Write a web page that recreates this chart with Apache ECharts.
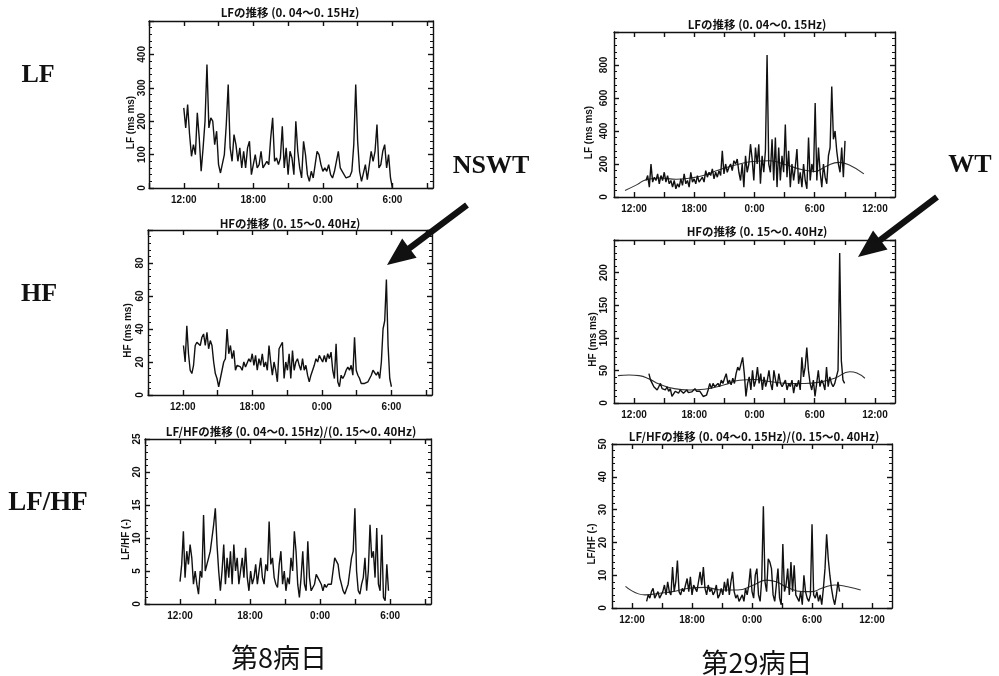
<!DOCTYPE html>
<html><head><meta charset="utf-8">
<script src="https://cdn.jsdelivr.net/npm/echarts@6/dist/echarts.min.js"></script>
<style>html,body{margin:0;padding:0;background:#fff}#c{width:999px;height:676px}</style>
</head><body><div id="c"></div>
<script>
// ---------- data (time in hours; 24 = 0:00 next day) ----------
const day8LF_start = 12.0, day8LF_end = 30.0;
const day8LF = [240,180,250,160,95,130,100,225,150,50,120,200,370,180,210,200,130,170,70,45,
40,100,190,310,120,80,160,130,80,120,60,110,60,120,140,40,70,100,60,70,
110,60,70,80,70,150,210,80,90,70,90,185,60,120,40,110,90,40,200,110,
60,30,140,100,40,20,50,30,70,110,100,70,50,60,50,70,40,30,50,80,
110,60,50,50,30,25,35,50,130,310,140,50,20,25,70,25,30,110,80,110,
190,60,70,110,130,60,100,30,0];

const day8HF_start = 12.06, day8HF_end = 30.0;
const day8HF = [30,20,42,25,15,13,18,30,32,33,30,35,37,30,38,28,33,30,20,13,
10,5,10,15,20,22,40,25,30,22,27,15,18,18,17,15,20,17,18,22,
20,25,18,24,15,22,18,25,17,20,15,30,20,12,20,15,8,28,30,32,
10,20,15,25,10,27,15,20,22,18,15,22,15,18,12,8,12,15,18,22,
20,24,22,20,24,20,25,22,26,15,10,31,8,5,12,10,12,15,17,15,
18,12,35,15,12,10,7,8,7,7,8,10,12,15,16,12,14,10,20,40,
45,70,30,10,5];

const day8Ratio_start = 12.0, day8Ratio_end = 29.86;
const day8Ratio = [3.4,6,11,4,8,6,9,7,3,5,3,1.5,5,4,13.5,5,6,7,8,10,
12,14.5,9,5,2,5,9,3,7,4,8,3,9,5,7,3,5,7,4,8.5,
4,2,5,3,4,6,3,5,7,4,3,6,5,12.5,6,7,4,3,2.5,6,
8,3,5,2,4,3,7,5,11,8,3,1,4,8,3,2,9.5,4,2,2,
3,4.5,4,4,3,2,3,2.5,3,3,3,5,7,6.5,6,4,3,2,1.5,1.5,
3,5,7,8,14.5,5,2,1.5,3,4,7,2,5,12,7,8,4,11.5,3,2,
10.5,1,0.5,6,2];

const day29LF_start = 13.19, day29LF_end = 33.02;
const day29LF = [100,130,60,200,90,120,100,140,80,130,100,150,90,130,80,100,60,100,50,80,
60,110,70,140,80,100,60,150,90,110,80,130,90,100,120,90,160,120,150,130,
170,110,150,120,160,130,280,140,200,150,180,200,160,220,200,230,150,100,200,60,
250,150,200,320,230,100,300,200,320,80,250,150,280,860,200,150,350,100,360,60,
300,100,250,150,440,120,280,60,200,100,180,290,80,150,60,200,100,50,360,100,
200,150,570,100,300,150,60,200,120,80,250,300,670,350,400,280,200,150,300,120,
340];
const day29LF_trendT = [11.1,12.3,13.2,14.6,16.2,17.6,18.9,20.5,22.2,23.8,25.5,27.1,28.8,30.0,31.1,32.4,33.4,34.9];
const day29LF_trendV = [40,75,105,115,108,115,130,165,195,215,220,195,165,155,185,210,195,140];

const day29HF_start = 13.48, day29HF_end = 32.98;
const day29HF = [45,35,30,25,28,20,25,30,22,25,20,25,18,22,10,12,18,20,15,20,
18,15,18,20,16,18,17,20,22,18,15,18,15,10,8,12,20,30,22,30,
25,28,30,25,35,30,38,45,30,35,28,38,30,45,55,50,60,70,45,10,
30,40,20,50,25,35,55,30,45,20,40,25,35,50,30,20,50,35,25,45,
30,25,30,35,20,30,25,35,15,30,25,35,20,70,40,55,85,50,30,20,
35,10,30,50,25,35,30,20,55,25,40,30,25,30,40,50,230,65,35,30];
const day29HF_trendT = [10.4,11.5,12.5,13.5,14.5,16,17.5,19,21,22.5,24,25.5,27.5,29,30.5,32,33.5,34.2,35];
const day29HF_trendV = [42,43,42,37,29,22,20,21,28,35,36,33,30,30,32,38,48,46,38];

const day29Ratio_start = 13.46, day29Ratio_end = 32.76;
const day29Ratio = [2,4,3,5,6,3,4,5,3,4,5,7,4,8,5,4,12.5,5,8,14.5,
5,4,6,5,7,9,5,9.5,4,7,6,5,8,11,7,12.5,6,4,7,5,
6,4,5,7,3,4,6,4,8,5,9,4,8,11,5,3,4,2,3,4,
2,6,4,7,12,5,3,10,12,4,2,9,31,8,5,15,14,12,4,2,
7,12,3,1,19.5,5,7,12,4,14,5,13,4,3,2,5,1,10,5,3,
2,4,25.5,4,3,5,2,4,1,6,12,22.5,15,10,6,3,1,4,8,5];
const day29Ratio_trendT = [11.35,13.3,14.76,16.05,17.68,19.3,20.92,22.54,24.16,25.46,26.43,27.4,29.03,30.0,30.97,32.27,33.57,34.87];
const day29Ratio_trendV = [6.6,4,4.5,5,6,6.3,5.5,5.5,7,8.5,8,6.5,5,5,6,7,6.5,5.5];

const leftTicks = [9,12,15,18,21,24,27,30,33];
const leftLabels = [12,18,24,30];
const rightTicks = [12,15,18,21,24,27,30,33,36];
const rightLabels = [12,18,24,30,36];

// ---------- helpers ----------
function evenSeries(start, end, vals){
  const n = vals.length;
  return vals.map((v,i)=>[start + i*(end-start)/(n-1), v]);
}
function pairs(ts, vs){ return ts.map((t,i)=>[t, vs[i]]); }
function hourLabel(v){ const h = ((Math.round(v) % 24) + 24) % 24; return h + ':00'; }

const INK = '#111';
const panels = [
  {grid:{left:149,top:21,width:284,height:167}, xmin:9, xmax:33.5, ticks:leftTicks, labels:leftLabels,
   ymax:500, yint:100, showMax:false, title:'LFの推移 (0. 04～0. 15Hz)', tx:290, ty:13,
   name:'LF (ms ms)', nameGap:13, lblMargin:2, data:evenSeries(day8LF_start, day8LF_end, day8LF)},
  {grid:{left:148,top:230,width:284,height:165}, xmin:9, xmax:33.5, ticks:leftTicks, labels:leftLabels,
   ymax:100, yint:20, showMax:false, title:'HFの推移 (0. 15～0. 40Hz)', tx:290, ty:224,
   name:'HF (ms ms)', nameGap:15, lblMargin:3, data:evenSeries(day8HF_start, day8HF_end, day8HF)},
  {grid:{left:145,top:439,width:286,height:165}, xmin:9, xmax:33.5, ticks:leftTicks, labels:leftLabels,
   ymax:25, yint:5, showMax:true, title:'LF/HFの推移 (0. 04～0. 15Hz)/(0. 15～0. 40Hz)', tx:291, ty:432,
   name:'LF/HF (-)', nameGap:14, lblMargin:3, data:evenSeries(day8Ratio_start, day8Ratio_end, day8Ratio)},
  {grid:{left:614,top:32,width:281,height:165}, xmin:10, xmax:38, ticks:rightTicks, labels:rightLabels,
   ymax:1000, yint:200, showMax:false, title:'LFの推移 (0. 04～0. 15Hz)', tx:757, ty:25,
   name:'LF (ms ms)', nameGap:20, lblMargin:5, data:evenSeries(day29LF_start, day29LF_end, day29LF),
   trend:pairs(day29LF_trendT, day29LF_trendV)},
  {grid:{left:614,top:240,width:281,height:163}, xmin:10, xmax:38, ticks:rightTicks, labels:rightLabels,
   ymax:250, yint:50, showMax:false, title:'HFの推移 (0. 15～0. 40Hz)', tx:757, ty:232,
   name:'HF (ms ms)', nameGap:15, lblMargin:5, data:evenSeries(day29HF_start, day29HF_end, day29HF),
   trend:pairs(day29HF_trendT, day29HF_trendV)},
  {grid:{left:612,top:444,width:280,height:164}, xmin:10, xmax:38, ticks:rightTicks, labels:rightLabels,
   ymax:50, yint:10, showMax:true, title:'LF/HFの推移 (0. 04～0. 15Hz)/(0. 15～0. 40Hz)', tx:754, ty:437,
   name:'LF/HF (-)', nameGap:14, lblMargin:4, data:evenSeries(day29Ratio_start, day29Ratio_end, day29Ratio),
   trend:pairs(day29Ratio_trendT, day29Ratio_trendV)}
];

const grids=[], xAxes=[], yAxes=[], series=[], graphics=[];
const lineSt = {color:INK, width:1.4};
const tickFont = {fontSize:10, fontWeight:'bold', fontFamily:'Liberation Sans', color:INK};

panels.forEach((p,i)=>{
  grids.push(Object.assign({containLabel:false, show:false}, p.grid));
  xAxes.push({gridIndex:i, type:'value', min:p.xmin, max:p.xmax,
    axisLine:{show:true, onZero:false, lineStyle:lineSt},
    axisTick:{show:true, inside:true, length:5, customValues:p.ticks, lineStyle:lineSt},
    axisLabel:Object.assign({show:true, margin:7, customValues:p.labels, formatter:hourLabel}, tickFont),
    splitLine:{show:false}});
  xAxes.push({gridIndex:i, type:'value', position:'top', min:p.xmin, max:p.xmax,
    axisLine:{show:true, onZero:false, lineStyle:lineSt},
    axisTick:{show:true, inside:true, length:5, customValues:p.ticks, lineStyle:lineSt},
    axisLabel:{show:false}, splitLine:{show:false}});
  yAxes.push({gridIndex:i, type:'value', min:0, max:p.ymax, interval:p.yint,
    axisLine:{show:true, onZero:false, lineStyle:lineSt},
    axisTick:{show:true, inside:true, length:5, lineStyle:lineSt},
    minorTick:{show:true, splitNumber:5, length:3, lineStyle:{color:INK, width:1}},
    axisLabel:Object.assign({rotate:90, margin:p.lblMargin, showMaxLabel:p.showMax}, tickFont),
    name:p.name, nameLocation:'middle', nameRotate:90, nameGap:p.nameGap,
    nameTextStyle:{fontSize:10, fontWeight:'bold', fontFamily:'Liberation Sans', color:INK, padding:[0,36,0,0]},
    splitLine:{show:false}, minorSplitLine:{show:false}});
  yAxes.push({gridIndex:i, type:'value', position:'right', min:0, max:p.ymax, interval:p.yint,
    axisLine:{show:true, onZero:false, lineStyle:lineSt},
    axisTick:{show:true, inside:true, length:5, lineStyle:lineSt},
    minorTick:{show:true, splitNumber:5, length:3, lineStyle:{color:INK, width:1}},
    axisLabel:{show:false}, splitLine:{show:false}});
  series.push({type:'line', xAxisIndex:2*i, yAxisIndex:2*i, data:p.data, symbol:'none',
    showSymbol:false, lineStyle:{color:INK, width:1.4}, silent:true, z:3});
  if (p.trend) series.push({type:'line', xAxisIndex:2*i, yAxisIndex:2*i, data:p.trend, symbol:'none',
    showSymbol:false, smooth:0.5, lineStyle:{color:'#333', width:1.1}, silent:true, z:2});
  graphics.push({type:'text', x:p.tx, y:p.ty, style:{text:p.title, fill:INK,
    font:'bold 11.5px "Noto Sans CJK JP"', textAlign:'center', align:'center', textVerticalAlign:'middle', verticalAlign:'middle'}});
});

function label(x,y,text,font){
  return {type:'text', x:x, y:y, style:{text:text, fill:'#111', font:font,
    textAlign:'center', align:'center', textVerticalAlign:'middle', verticalAlign:'middle'}};
}
const serif = 'bold 26px "Liberation Serif"';
graphics.push(label(38,75,'LF',serif));
graphics.push(label(39,294,'HF',serif));
graphics.push(label(48,503,'LF/HF','bold 27px "Liberation Serif"'));
graphics.push(label(491,166,'NSWT',serif));
graphics.push(label(970,165,'WT',serif));
graphics.push(label(279,658,'第8病日','27px "Noto Sans CJK JP"'));
graphics.push(label(757,663,'第29病日','27px "Noto Sans CJK JP"'));

function arrow(tx,ty,hx,hy){
  const dx=hx-tx, dy=hy-ty, L=Math.hypot(dx,dy), ux=dx/L, uy=dy/L, nx=-uy, ny=ux;
  const sw=3.2, hw=12, hl=28;
  const bx=hx-ux*hl, by=hy-uy*hl;
  const pts=[[tx+nx*sw,ty+ny*sw],[bx+nx*sw,by+ny*sw],[bx+nx*hw,by+ny*hw],[hx,hy],
             [bx-nx*hw,by-ny*hw],[bx-nx*sw,by-ny*sw],[tx-nx*sw,ty-ny*sw]];
  return {type:'polygon', shape:{points:pts}, style:{fill:'#111'}};
}
graphics.push(arrow(467,205,387,265));
graphics.push(arrow(937,197,858,257));

const chart = echarts.init(document.getElementById('c'));
chart.setOption({animation:false, backgroundColor:'#fff', grid:grids, xAxis:xAxes, yAxis:yAxes,
  series:series, graphic:graphics});
</script></body></html>
